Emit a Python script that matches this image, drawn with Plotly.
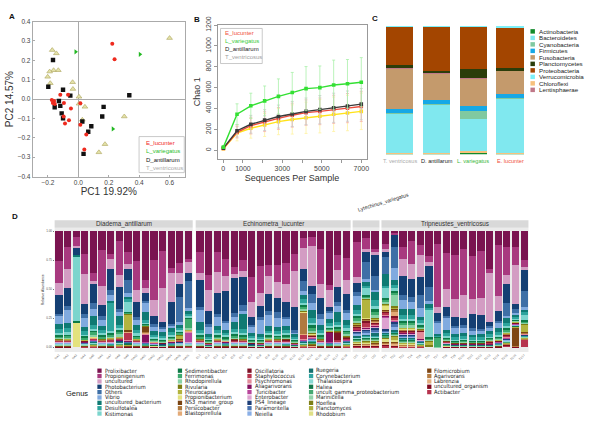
import plotly.graph_objects as go

# ================= DATA =================
# ---- Panel A: PCoA ----
pcoa_E_x = [0.223, 0.238, -0.119, -0.068, -0.095, -0.160, -0.168, -0.155, -0.175, -0.049, -0.097, -0.088, -0.062, 0.013, 0.013, 0.052, 0.039]
pcoa_E_y = [0.286, 0.206, 0.022, 0.022, -0.020, -0.010, -0.020, -0.025, -0.005, -0.049, -0.090, -0.126, -0.109, -0.022, -0.132, -0.183, -0.261]
pcoa_L_x = [-0.018, 0.405, 0.227]
pcoa_L_y = [0.244, 0.231, -0.154]
pcoa_D_x = [-0.167, -0.198, -0.101, -0.128, -0.053, -0.156, -0.119, -0.110, -0.101, 0.026, 0.335, 0.166, 0.157, 0.085, 0.065, 0.034]
pcoa_D_y = [0.202, 0.064, 0.048, -0.010, 0.018, -0.042, -0.035, -0.074, -0.099, -0.116, 0.020, -0.040, -0.090, -0.140, -0.169, -0.283]
pcoa_T_x = [-0.172, -0.145, -0.163, -0.189, -0.132, -0.202, -0.185, -0.038, -0.036, 0.004, 0.004, 0.043, 0.026, 0.302, 0.175, 0.135, 0.600]
pcoa_T_y = [0.253, 0.236, 0.149, 0.142, 0.149, 0.115, 0.082, 0.087, 0.052, 0.012, -0.024, -0.040, -0.107, -0.090, -0.233, -0.275, 0.315]
pcoa_x_ticks = [-0.2, 0.0, 0.2, 0.4, 0.6]
pcoa_x_ticktext = ['\u22120.2', '0.0', '0.2', '0.4', '0.6']
pcoa_y_ticks = [-0.4, -0.3, -0.2, -0.1, 0.0, 0.1, 0.2, 0.3, 0.4]
pcoa_y_ticktext = ['\u22120.4', '\u22120.3', '\u22120.2', '\u22120.1', '0.0', '0.1', '0.2', '0.3', '0.4']

# ---- Panel B: rarefaction (Chao1) ----
seq_depth = [10, 700, 1400, 2100, 2800, 3500, 4200, 4900, 5600, 6300, 7000]
chao_E = [18, 172, 236, 274, 305, 336, 361, 373, 392, 404, 420]
chao_L = [30, 345, 426, 473, 516, 553, 591, 600, 625, 637, 652]
chao_D = [20, 187, 249, 289, 323, 348, 373, 389, 407, 423, 442]
chao_T = [15, 165, 211, 242, 274, 295, 311, 326, 345, 357, 373]
err_E = [6, 55, 80, 95, 105, 115, 122, 128, 135, 140, 145]
err_L = [10, 100, 121, 143, 168, 193, 211, 208, 239, 233, 236]
err_D = [6, 60, 85, 100, 110, 120, 128, 135, 140, 145, 150]
err_T = [5, 75, 95, 110, 125, 140, 150, 160, 165, 170, 175]
chao_x_ticks = [0, 1000, 2000, 3000, 4000, 5000, 6000, 7000]
chao_x_ticktext = ['0', '1000', '', '3000', '', '5000', '', '7000']
chao_y_ticks = [0, 200, 400, 600, 800, 1000, 1200]

# ---- Panel C: phylum composition ----
phylum_species = ['T. ventricosus', 'D. antillarum', 'L. variegatus', 'E. lucunter']
Actinobacteria = [1.0, 1.0, 1.5, 1.0]
Chloroflexi = [0.2, 0.2, 0.8, 0.2]
Bacteroidetes = [31.0, 37.7, 24.8, 42.8]
Cyanobacteria = [0.3, 0.3, 6.8, 0.3]
Firmicutes = [3.0, 3.0, 3.3, 3.0]
Fusobacteria = [31.0, 21.3, 22.3, 19.0]
Lentisphaerae = [2.0, 0.8, 0.2, 0.2]
Planctomycetes = [1.0, 1.0, 7.1, 1.5]
Proteobacteria = [30.6, 35.0, 33.4, 31.9]
Verrucomicrobia = [0.5, 0.2, 0.2, 1.3]

# ---- Panel D: genus composition per sample ----
facet_names = ['Diadema_antillarum', 'Echinometra_lucunter', 'Lytechinus_variegatus', 'Tripneustes_ventricosus']
samples_D = ['DA1', 'DA2', 'DA3', 'DA4', 'DA5', 'DA6', 'DA7', 'DA8', 'DA9', 'DA10', 'DA11', 'DA12', 'DA13', 'DA14', 'DA15', 'DA16']
samples_E = ['EL1', 'EL2', 'EL3', 'EL4', 'EL5', 'EL6', 'EL7', 'EL8', 'EL9', 'EL10', 'EL11', 'EL12', 'EL13', 'EL14', 'EL15', 'EL16', 'EL17', 'EL18']
samples_L = ['LV1', 'LV2', 'LV3']
samples_T = ['TV1', 'TV2', 'TV3', 'TV4', 'TV5', 'TV6', 'TV7', 'TV8', 'TV9', 'TV10', 'TV11', 'TV12', 'TV13', 'TV14', 'TV15', 'TV16', 'TV17']

# values in % ; order of samples: D(16) E(18) L(3) T(17)
Prolixibacter = [26.5, 14.6, 4.8, 20.3, 37.7, 16.9, 20.3, 9.0, 18.9, 26.8, 44.2, 25.9, 17.5, 33.0, 28.7, 24.5,
                 18.8, 38.4, 18.8, 25.5, 31.9, 25.5, 41.2, 30.5, 30.0, 30.1, 29.0, 20.0, 5.9, 5.3, 16.0, 48.7, 21.0, 25.0,
                 10.5, 6.7, 17.9,
                 12.3, 2.0, 15.0, 9.5, 12.3, 22.0, 11.3, 19.3, 20.7, 16.0, 21.6, 17.9, 33.9, 12.3, 14.3, 14.3, 26.3]
Propionigenium = [19.7, 19.2, 7.9, 17.5, 7.3, 32.1, 5.1, 31.0, 10.7, 25.9, 7.6, 35.2, 33.2, 4.8, 9.0, 2.8,
                  18.8, 13.2, 17.9, 14.8, 6.4, 10.6, 21.6, 23.8, 10.4, 15.5, 19.0, 15.0, 9.2, 9.0, 31.4, 4.2, 14.0, 20.0,
                  35.0, 11.2, 3.6,
                  4.8, 2.0, 12.0, 22.4, 9.8, 5.0, 54.1, 32.2, 39.2, 40.3, 38.4, 41.2, 3.6, 45.7, 26.0, 15.7, 6.4]
uncultured = [10.7, 17.5, 2.0, 27.0, 3.4, 16.9, 8.5, 10.7, 4.8, 11.3, 4.5, 14.9, 30.1, 26.2, 10.1, 10.4,
              6.4, 18.8, 18.5, 14.0, 3.9, 5.0, 14.0, 12.0, 16.0, 14.1, 16.0, 32.3, 19.6, 37.3, 12.6, 15.4, 15.0, 13.0,
              6.0, 2.8, 3.4,
              3.6, 0.0, 16.0, 14.0, 19.6, 3.4, 5.6, 16.8, 16.0, 20.4, 13.2, 14.8, 42.9, 14.0, 7.6, 35.6, 2.8]
Photobacterium = [16.9, 16.3, 6.2, 9.0, 16.9, 10.1, 18.9, 20.3, 9.9, 13.2, 6.8, 6.8, 4.2, 19.7, 11.3, 6.5,
                  23.5, 12.0, 18.8, 26.6, 31.7, 25.2, 7.0, 9.0, 15.7, 12.7, 13.5, 20.0, 11.2, 7.0, 14.0, 4.2, 13.0, 14.5,
                  9.2, 9.8, 21.0,
                  4.2, 11.2, 18.0, 17.6, 16.8, 18.2, 7.0, 7.6, 7.8, 6.4, 12.9, 12.6, 3.4, 8.4, 17.6, 4.8, 18.8]
Others = [2.3, 3.4, 0.0, 3.4, 5.6, 3.4, 4.8, 2.8, 11.3, 2.3, 1.0, 2.3, 1.0, 1.0, 23.1, 23.9,
          2.8, 1.4, 2.8, 1.0, 2.8, 5.6, 1.0, 2.8, 3.4, 5.6, 2.0, 1.4, 9.8, 8.4, 4.2, 1.0, 4.0, 2.5,
          3.7, 16.8, 14.0,
          16.8, 21.0, 5.0, 4.8, 11.2, 12.6, 1.0, 2.0, 2.0, 2.0, 2.0, 2.0, 2.0, 2.0, 12.0, 3.1, 14.0]
Vibrio = [6.8, 11.3, 0.0, 7.9, 6.2, 5.6, 5.1, 3.4, 4.2, 5.1, 9.3, 4.2, 4.2, 2.8, 2.3, 2.8,
          11.2, 7.0, 8.4, 7.0, 4.8, 2.0, 5.6, 12.6, 9.8, 7.6, 6.0, 2.0, 3.4, 7.0, 5.6, 5.6, 5.0, 6.0,
          9.0, 2.8, 2.8,
          0.0, 11.2, 8.0, 7.0, 8.4, 2.8, 9.9, 10.6, 5.6, 4.8, 3.4, 2.8, 2.8, 4.8, 2.0, 2.0, 2.8]
uncultured_bacterium = [5, 5, 0.3, 4, 8.5, 4, 2, 7.9, 2, 4, 7, 3, 3, 3.5, 3, 3,
                        6.4, 2.5, 4, 3, 6.4, 14, 3, 2.5, 4, 4, 4, 2.5, 4, 7, 4.5, 4, 9, 5,
                        5, 4, 8,
                        11.2, 5.6, 6, 5.5, 3, 3, 1, 3, 2.5, 3, 2.5, 2.5, 3, 3.5, 4, 2, 2]
Desulfotalea = [3, 3.5, 0.8, 3, 3, 2.5, 25.4, 3, 1.5, 3, 1.5, 2, 2, 2.5, 2, 2,
                3, 1.5, 2.5, 2, 3, 3, 2, 1.5, 2.5, 2.5, 2.5, 1.5, 3, 5, 3, 2.5, 2.5, 3,
                4, 2, 6,
                2, 3, 4, 4, 2, 1, 0.8, 2.5, 1.5, 2, 1.5, 1.5, 2, 2.5, 3, 1, 1.5]
Kistimonas = [1.5, 1.5, 55.8, 1, 1.5, 1, 1.5, 2, 9.9, 1.5, 1, 0.8, 1, 1, 1, 1,
              1.2, 0.8, 1, 1, 1, 1.5, 0.8, 0.8, 1, 1, 1, 0.8, 2, 2, 1, 1, 1.5, 1.5,
              2, 7, 3,
              9.8, 2, 2, 2, 1.5, 25, 0.4, 1, 0.8, 0.8, 0.7, 0.8, 0.8, 1, 1.5, 1, 5.6]
Sedimentibacter = [1.5, 1.5, 0.3, 1.5, 2, 1.5, 1.5, 2, 0.5, 1.5, 0.8, 1, 1, 1.2, 1, 1,
                   1.5, 1, 1.5, 1.2, 1.5, 1.5, 1, 1, 1.5, 1.2, 1.2, 1, 2, 2.5, 1.5, 1.2, 1.5, 2,
                   2.5, 1, 3,
                   2, 2, 2, 2, 1.5, 1, 0.4, 1, 0.8, 1, 0.8, 0.8, 1, 1.2, 1.5, 0.5, 1]
Ferrimonas = [1.5, 1.5, 0.3, 1.2, 2, 1.5, 1.5, 2, 0.5, 1.2, 1, 1, 0.8, 1.2, 1, 8.5,
              1.5, 0.8, 1.3, 1, 1.5, 1.5, 0.8, 0.8, 1.2, 1.2, 1.2, 0.8, 2, 2.5, 1.5, 1.2, 1.5, 2,
              2.5, 1, 3,
              2, 2, 2, 2, 1.5, 1, 8.5, 1, 0.8, 0.8, 0.8, 0.8, 0.8, 1, 1.5, 0.5, 1]
Rhodopirellula = [0.8, 1, 0, 0.5, 1, 0.8, 1, 1.5, 0.5, 0.5, 0.5, 0.5, 0.5, 0.6, 0.5, 1,
                  0.8, 0.5, 0.8, 0.6, 1, 0.8, 0.5, 0.5, 0.8, 0.8, 0.8, 0.5, 1, 1.5, 0.8, 0.6, 0.8, 1,
                  1.5, 1, 2,
                  2, 11.2, 1.5, 1.5, 1, 0.5, 0.3, 0.5, 0.4, 0.5, 0.4, 0.4, 0.4, 0.5, 1, 0.5, 1]
Rivularia = [0.3, 0.3, 0, 0.2, 0.4, 0.3, 0.3, 0.4, 0.5, 0.3, 0.3, 0.2, 0.2, 0.2, 0.5, 0.3,
             0.3, 0.2, 0.3, 0.2, 0.3, 0.3, 0.2, 0.2, 0.3, 0.3, 0.3, 0.2, 0.4, 0.5, 0.3, 0.2, 0.3, 0.4,
             0.8, 1, 1,
             0.5, 1, 0.6, 0.6, 0.3, 2, 0, 0.2, 0.2, 0.2, 0.2, 0.2, 0.2, 0.3, 0.3, 0.2, 1]
Pleurocapsa = [0.4, 0.3, 0, 0.3, 0.4, 0.3, 0.4, 0.5, 14.1, 0.3, 0.3, 0.2, 0.2, 0.3, 3.9, 0.3,
               0.3, 0.2, 0.3, 0.2, 0.3, 0.3, 0.2, 0.2, 0.3, 0.3, 0.3, 0.2, 0.5, 0.5, 0.3, 0.3, 0.4, 0.4,
               1, 18.2, 1,
               0.8, 1, 0.8, 0.8, 0.4, 2, 0, 0.3, 0.2, 0.2, 0.2, 0.2, 0.2, 0.3, 0.4, 0.3, 7]
Propionibacterium = [0, 0.3, 21.5, 0, 0.3, 0, 0.3, 0, 0, 0.3, 0, 0, 0, 0.2, 0, 0,
                     0, 0, 0.3, 0, 0, 0, 0, 0, 0.3, 0, 0, 0, 0.5, 0.5, 0, 0, 0, 0.3,
                     0.5, 1, 0.5,
                     4.2, 0.5, 0.5, 0.5, 0, 0, 0, 0, 0, 0, 0, 0, 0, 0, 0.3, 0, 0]
NS3_marine_group = [0.3, 0.3, 0, 0.3, 0.4, 0.3, 0.3, 0.3, 1.5, 0.3, 5.6, 0.2, 0.2, 0.3, 0.3, 0.3,
                    0.3, 0.2, 0.3, 0.2, 0.3, 0.3, 0.2, 0.2, 0.3, 0.3, 0.3, 0.2, 0.5, 0.5, 0.3, 0.3, 0.3, 0.4,
                    0.6, 0.8, 1,
                    0.5, 1, 0.6, 0.6, 0.3, 0, 0, 0.2, 0.2, 0.2, 0.2, 0.2, 0.2, 0.3, 0.4, 0.3, 0.3]
Persicobacter = [0.2, 0.2, 0, 0.2, 0.3, 0.2, 0.2, 0.3, 0.3, 0.2, 0.3, 0.2, 0.1, 0.2, 0.2, 0.3,
                 0.2, 0.1, 0.2, 0.2, 0.2, 0.2, 0.1, 0.1, 0.2, 0.2, 0.2, 0.1, 19.6, 0.4, 0.2, 0.2, 0.3, 0.3,
                 0.5, 0.5, 0.8,
                 0.5, 1, 0.5, 0.5, 0.3, 0, 0, 0.2, 0.1, 0.1, 0.1, 0.1, 0.1, 0.2, 0.3, 0.2, 0.2]
Blastopirellula = [0.2, 0.2, 0, 0.2, 0.3, 0.2, 0.2, 0.3, 0.3, 0.2, 0.2, 0.2, 0.1, 0.2, 0.2, 0.2,
                   0.2, 0.1, 0.2, 0.2, 0.2, 0.2, 0.1, 0.1, 0.2, 0.2, 0.2, 0.1, 0.3, 0.4, 0.2, 0.2, 0.3, 0.3,
                   0.5, 0.5, 0.8,
                   0.5, 4.8, 0.5, 0.5, 0.3, 0, 0, 0.2, 0.1, 0.1, 0.1, 0.1, 0.1, 0.2, 0.3, 0.2, 0.2]
Oscillatoria = [0.3, 0.3, 0, 0.3, 0.4, 0.3, 0.3, 0.4, 0.5, 0.3, 0.3, 0.2, 0.2, 0.3, 0.3, 0.3,
                0.3, 0.2, 0.3, 0.2, 1, 0.3, 0.2, 0.2, 0.3, 0.3, 1, 0.2, 0.5, 0.5, 0.3, 0.3, 7, 0.5,
                1, 1.5, 1,
                0.8, 2.8, 0.6, 0.6, 0.4, 0, 0, 0.2, 0.2, 0.2, 0.2, 0.2, 2.2, 0.3, 0.5, 0.3, 0.3]
Staphylococcus = [0.4, 0.4, 0, 0.3, 0.5, 0.4, 1.5, 0.5, 7, 0.4, 0.4, 0.3, 0.3, 0.3, 0.4, 0.4,
                  0.4, 0.2, 0.4, 0.3, 0.4, 0.4, 0.3, 0.2, 0.4, 0.4, 0.4, 0.2, 4, 0.6, 0.4, 0.3, 0.5, 0.5,
                  1.5, 5, 1.5,
                  3, 1, 0.8, 0.8, 0.5, 0, 0, 0.3, 0.2, 0.2, 0.2, 0.2, 0.2, 0.3, 2, 0.3, 0.3]
Psychromonas = [0.2, 0.2, 0, 0.2, 0.3, 0.2, 0.2, 0.3, 0.2, 0.2, 0.2, 0.1, 0.1, 0.2, 0.2, 0.2,
                0.2, 0.1, 0.2, 0.2, 0.2, 0.2, 0.1, 0.1, 0.2, 0.2, 0.2, 0.1, 0.3, 0.4, 0.2, 0.2, 0.2, 0.3,
                0.5, 0.5, 0.8,
                0.5, 0.5, 0.5, 0.5, 7, 0, 0, 0.2, 0.1, 0.1, 0.1, 0.1, 0.1, 0.2, 0.3, 0.2, 0.2]
Aliagarivorans = [0.2, 0.2, 0, 0.2, 0.3, 0.2, 0.2, 0.3, 0.2, 0.2, 7, 0.1, 0.1, 0.2, 0.2, 0.2,
                  0.2, 0.1, 0.2, 0.2, 0.2, 0.2, 0.1, 0.1, 0.2, 0.2, 0.2, 0.1, 0.3, 0.4, 0.2, 8.4, 0.2, 0.3,
                  0.5, 0.5, 0.8,
                  0.5, 0.5, 0.5, 0.5, 0.3, 0, 0, 0.2, 0.1, 0.1, 0.1, 0.1, 0.1, 0.2, 0.3, 0.2, 0.2]
Turicibacter = [0.2, 0.2, 0, 0.2, 0.3, 0.2, 0.2, 0.3, 0.2, 0.2, 0.2, 0.1, 0.1, 0.2, 0.2, 8.5,
                0.2, 0.1, 0.2, 0.2, 0.2, 0.2, 0.1, 0.1, 0.2, 0.2, 0.2, 0.1, 0.3, 0.4, 0.2, 0.2, 0.2, 0.3,
                0.5, 0.5, 0.8,
                0.5, 0.5, 0.5, 0.5, 0.3, 0, 0, 0.2, 0.1, 0.1, 0.1, 0.1, 0.1, 0.2, 0.3, 0.2, 0.2]
Enterobacter = [0.2, 0.2, 0, 0.2, 0.3, 0.2, 0.2, 0.3, 0.2, 0.2, 0.2, 0.1, 0.1, 0.2, 0.2, 0.2,
                0.2, 0.1, 0.2, 0.2, 0.2, 0.2, 0.1, 0.1, 0.2, 0.2, 0.2, 0.1, 0.3, 0.4, 0.2, 0.2, 0.2, 0.3,
                0.5, 0.5, 0.8,
                12, 0.5, 0.5, 0.5, 0.3, 0, 0, 0.2, 0.1, 0.1, 0.1, 0.1, 0.1, 0.2, 0.3, 0.2, 0.2]
PS4_lineage = [0.3, 0.3, 0, 0.2, 0.3, 0.3, 0.3, 0.3, 0.3, 0.3, 0.3, 0.2, 0.2, 0.2, 0.3, 0.3,
               0.3, 0.2, 0.3, 0.2, 0.3, 0.3, 0.2, 0.2, 0.3, 0.3, 0.3, 0.2, 0.4, 0.5, 0.3, 0.3, 0.3, 0.4,
               1, 2, 1.5,
               0.8, 2, 0.8, 0.8, 0.4, 0, 0, 0.2, 0.2, 0.2, 0.2, 0.2, 0.2, 0.3, 0.4, 0.2, 0.2]
Paramoritella = [0.4, 0.4, 0, 0.3, 0.4, 0.4, 0.4, 0.4, 0.4, 0.4, 0.3, 0.3, 0.3, 0.3, 0.4, 0.4,
                 0.4, 0.2, 0.4, 0.3, 0.4, 0.4, 0.3, 0.2, 0.4, 0.4, 0.4, 0.2, 0.5, 0.6, 0.4, 0.3, 0.4, 0.5,
                 2, 1.5, 2,
                 1, 3, 1, 1, 0.5, 0, 0, 0.3, 0.2, 0.2, 0.2, 0.2, 0.2, 0.3, 0.5, 0.3, 0.3]
Neiella = [0.4, 0.4, 0, 0.3, 0.4, 0.4, 0.4, 0.4, 0.4, 0.4, 0.3, 0.3, 0.3, 0.3, 0.4, 0.4,
           0.4, 0.2, 0.4, 0.3, 0.4, 0.4, 0.3, 0.2, 0.4, 0.4, 0.4, 0.2, 0.5, 0.6, 0.4, 0.3, 0.4, 0.5,
           2, 2, 2.5,
           1, 3, 1, 1, 0.5, 0, 0, 0.3, 0.2, 0.2, 0.2, 0.2, 0.2, 0.3, 0.5, 0.3, 0.3]
Ruegeria = [0.3, 0.3, 0, 0.3, 0.4, 0.3, 0.3, 0.4, 0.3, 0.3, 0.3, 0.2, 0.2, 0.3, 0.3, 0.3,
            0.3, 0.2, 0.3, 0.3, 0.3, 0.3, 0.2, 0.2, 0.3, 0.3, 0.3, 0.2, 0.4, 0.5, 0.3, 0.3, 0.3, 0.4,
            1, 1, 1.5,
            1, 1, 1, 1, 0.4, 0, 0, 0.2, 0.2, 0.2, 0.2, 0.2, 0.2, 0.3, 0.4, 0.2, 0.2]
Corynebacterium = [0.3, 0.3, 0, 0.2, 0.4, 0.3, 0.3, 0.3, 0.3, 0.3, 0.3, 0.2, 0.2, 0.2, 0.3, 0.3,
                   0.3, 0.2, 0.3, 0.2, 0.3, 0.3, 0.2, 0.2, 0.3, 0.3, 0.3, 0.2, 0.4, 0.5, 0.3, 0.2, 0.3, 0.4,
                   0.8, 1, 1.2,
                   1, 1, 0.8, 0.8, 0.4, 0, 0, 0.2, 0.2, 0.2, 0.2, 0.2, 0.2, 0.3, 0.4, 0.2, 0.2]
Thalassospira = [0.2, 0.2, 0, 0.2, 0.3, 0.2, 0.2, 0.3, 0.2, 0.2, 0.2, 0.2, 0.1, 0.2, 0.2, 0.2,
                 0.2, 0.1, 0.2, 0.2, 0.2, 0.2, 0.1, 0.1, 0.2, 0.2, 0.2, 0.1, 0.3, 0.4, 0.2, 0.2, 0.2, 0.3,
                 0.6, 0.6, 0.8,
                 0.6, 0.8, 0.6, 0.6, 0.3, 0, 0, 0.2, 0.1, 0.1, 0.1, 0.1, 0.1, 0.2, 0.3, 0.2, 0.2]
Haliea = [0.4, 0.4, 0, 0.4, 0.5, 0.4, 0.4, 0.5, 0.4, 0.4, 0.4, 0.3, 0.3, 0.4, 0.4, 0.4,
          0.4, 0.3, 0.4, 0.4, 0.4, 0.4, 0.3, 0.3, 0.4, 0.4, 0.4, 0.3, 0.5, 0.7, 0.4, 0.4, 0.4, 0.5,
          1.2, 1, 1.5,
          1, 1, 1, 1, 0.5, 0, 0, 0.3, 0.2, 0.2, 0.2, 0.2, 0.2, 0.3, 0.5, 0.3, 0.3]
uncult_gamma_proteobacterium = [0.3, 0.3, 0, 0.3, 0.4, 0.3, 0.3, 0.4, 0.3, 0.3, 0.3, 0.2, 0.2, 0.3, 0.3, 0.3,
                                0.3, 0.2, 0.3, 0.3, 0.3, 0.3, 0.2, 0.2, 0.3, 0.3, 0.3, 0.2, 0.4, 0.6, 0.3, 0.3, 0.3, 0.4,
                                1, 1, 1.2,
                                1, 1, 0.8, 0.8, 0.4, 0, 0, 0.3, 0.2, 0.2, 0.2, 0.2, 0.2, 0.3, 0.4, 0.2, 0.2]
Marinicella = [0.2, 0.2, 0, 0.2, 0.3, 0.2, 0.2, 0.3, 0.2, 0.2, 0.2, 0.2, 0.1, 0.2, 0.2, 0.2,
               0.2, 0.1, 0.2, 0.2, 0.2, 0.2, 0.1, 0.1, 0.2, 0.2, 0.2, 0.1, 0.3, 0.4, 0.2, 0.2, 0.2, 0.3,
               0.6, 0.6, 0.8,
               0.6, 0.8, 0.6, 0.6, 0.3, 0, 0, 0.2, 0.1, 0.1, 0.1, 0.1, 0.1, 0.2, 0.3, 0.2, 0.2]
Hoeflea = [0.2, 0.2, 0, 0.2, 0.3, 0.2, 0.2, 0.3, 0.3, 0.2, 0.2, 0.2, 0.1, 0.2, 0.3, 0.2,
           0.2, 0.1, 0.2, 0.2, 0.2, 0.2, 0.1, 0.1, 0.2, 0.2, 0.2, 0.1, 0.3, 0.4, 0.2, 0.2, 0.2, 0.3,
           0.6, 0.8, 0.8,
           0.6, 2, 0.6, 0.6, 0.3, 2, 0, 0.2, 0.1, 0.1, 0.1, 0.1, 0.1, 0.2, 0.3, 0.2, 0.5]
Planctomyces = [0.2, 0.2, 0, 0.2, 0.3, 0.2, 0.2, 0.3, 0.4, 0.2, 0.2, 0.2, 0.1, 0.2, 0.3, 0.2,
                0.2, 0.1, 0.2, 0.2, 0.2, 0.2, 0.1, 0.1, 0.2, 0.2, 0.2, 0.1, 0.3, 0.4, 0.2, 0.2, 0.2, 0.3,
                0.6, 1, 0.8,
                0.6, 2, 0.6, 0.6, 0.3, 0, 0, 0.2, 0.1, 0.1, 0.1, 0.1, 0.1, 0.2, 0.3, 0.2, 0.5]
Rhodobium = [0.2, 0.2, 0, 0.2, 0.3, 0.2, 0.2, 0.3, 0.3, 0.2, 0.2, 0.2, 0.1, 0.2, 0.2, 0.2,
             0.2, 0.1, 0.2, 0.2, 0.2, 0.2, 0.1, 0.1, 0.2, 0.2, 0.2, 0.1, 0.3, 0.4, 0.2, 0.2, 0.2, 0.3,
             1, 1, 0.8,
             3, 1.5, 0.6, 0.6, 0.3, 0, 0, 0.2, 0.1, 0.1, 0.1, 0.1, 0.1, 0.2, 0.3, 0.2, 0.2]
Filomicrobium = [0.2, 0.2, 0, 0.2, 0.3, 0.2, 0.2, 0.3, 0.3, 0.2, 0.2, 0.2, 0.1, 0.2, 0.2, 0.2,
                 0.2, 0.1, 0.2, 0.2, 0.2, 0.2, 0.1, 0.1, 0.2, 0.2, 0.2, 0.1, 0.3, 0.4, 0.2, 0.2, 0.2, 0.3,
                 0.6, 0.6, 0.8,
                 0.6, 0.8, 0.6, 0.6, 0.3, 0, 0, 0.2, 0.1, 0.1, 0.1, 0.1, 0.1, 0.2, 0.3, 16.8, 0.2]
Agarivorans = [0.3, 0.3, 0, 0.3, 0.4, 0.3, 0.3, 0.4, 0.3, 0.3, 0.3, 0.2, 0.2, 0.3, 0.3, 0.3,
               0.3, 0.2, 0.3, 0.3, 0.3, 0.3, 0.2, 0.2, 0.3, 0.3, 0.3, 0.2, 0.4, 0.5, 0.3, 0.3, 0.3, 0.4,
               0.8, 0.8, 1,
               0.8, 1.5, 0.6, 0.6, 0.4, 0, 0, 0.2, 0.2, 0.2, 0.2, 0.2, 0.2, 0.3, 0.4, 0.3, 0.3]
Labrenzia = [0.3, 0.3, 0, 0.3, 0.4, 0.3, 0.3, 0.4, 0.3, 0.3, 0.3, 0.2, 0.2, 0.3, 0.3, 0.3,
             0.3, 0.2, 0.3, 0.3, 0.3, 0.3, 0.2, 0.2, 0.3, 0.3, 0.3, 0.2, 0.4, 0.5, 0.3, 0.3, 0.3, 0.4,
             0.8, 0.8, 1,
             0.8, 1.5, 0.6, 0.6, 0.4, 0, 0, 0.2, 0.2, 0.2, 0.2, 0.2, 0.2, 0.3, 0.4, 0.3, 0.3]
uncultured_organism = [0.2, 0.2, 0, 0.2, 0.3, 0.2, 0.2, 0.3, 0.3, 0.2, 0.2, 0.2, 0.1, 0.2, 0.2, 0.2,
                       0.2, 0.1, 0.2, 0.2, 0.2, 0.2, 0.1, 0.1, 0.2, 0.2, 0.2, 0.1, 0.3, 0.4, 0.2, 0.2, 0.2, 0.3,
                       0.8, 1, 0.8,
                       2, 1, 0.6, 0.6, 0.3, 0, 0, 0.2, 0.1, 0.1, 0.1, 0.1, 0.1, 0.2, 0.3, 0.2, 0.2]
Actibacter = [0.3, 0.3, 0, 0.3, 0.4, 0.3, 0.3, 0.4, 0.3, 0.3, 0.3, 0.2, 0.2, 0.3, 0.3, 0.3,
              0.3, 0.2, 0.3, 0.3, 0.3, 0.3, 0.2, 0.2, 0.3, 0.3, 0.3, 0.2, 0.4, 0.5, 0.3, 0.3, 0.3, 0.4,
              0.8, 1, 1,
              1, 1, 0.6, 0.6, 0.4, 0, 0, 0.2, 0.2, 0.2, 0.2, 0.2, 0.2, 0.3, 2, 0.3, 7]

genus_names = ['Prolixibacter', 'Propionigenium', 'uncultured', 'Photobacterium', 'Others', 'Vibrio',
               'uncultured_bacterium', 'Desulfotalea', 'Kistimonas',
               'Sedimentibacter', 'Ferrimonas', 'Rhodopirellula', 'Rivularia', 'Pleurocapsa',
               'Propionibacterium', 'NS3_marine_group', 'Persicobacter', 'Blastopirellula',
               'Oscillatoria', 'Staphylococcus', 'Psychromonas', 'Aliagarivorans', 'Turicibacter',
               'Enterobacter', 'PS4_lineage', 'Paramoritella', 'Neiella',
               'Ruegeria', 'Corynebacterium', 'Thalassospira', 'Haliea', 'uncult_gamma_proteobacterium',
               'Marinicella', 'Hoeflea', 'Planctomyces', 'Rhodobium',
               'Filomicrobium', 'Agarivorans', 'Labrenzia', 'uncultured_organism', 'Actibacter']
genus_values = [Prolixibacter, Propionigenium, uncultured, Photobacterium, Others, Vibrio,
                uncultured_bacterium, Desulfotalea, Kistimonas,
                Sedimentibacter, Ferrimonas, Rhodopirellula, Rivularia, Pleurocapsa,
                Propionibacterium, NS3_marine_group, Persicobacter, Blastopirellula,
                Oscillatoria, Staphylococcus, Psychromonas, Aliagarivorans, Turicibacter,
                Enterobacter, PS4_lineage, Paramoritella, Neiella,
                Ruegeria, Corynebacterium, Thalassospira, Haliea, uncult_gamma_proteobacterium,
                Marinicella, Hoeflea, Planctomyces, Rhodobium,
                Filomicrobium, Agarivorans, Labrenzia, uncultured_organism, Actibacter]
genus_colors = ['#7A1350', '#A8397F', '#D39CC3', '#143F73', '#3E6FA6', '#80AADF',
                '#0F7A73', '#2DA49C', '#7CD5CD',
                '#0E7A47', '#3DAA6E', '#88D2A6', '#7B7D12', '#B3B43E', '#E3E27D',
                '#7A4312', '#B07A3F', '#E3AA77',
                '#7E1226', '#B8344E', '#E38B9B', '#85105F', '#B8469C', '#DDA2D0',
                '#1E3F78', '#4A73B0', '#8AAFE6',
                '#15716F', '#30A5A1', '#88D9D3', '#13794B', '#46A972', '#91D3A9',
                '#7D7F16', '#AFB03F', '#DFE087',
                '#7F4614', '#B77E43', '#E4AE7D', '#80091F', '#B6344E']

# ================= FIGURE =================
W, H = 600, 426


def fx(p):
    return p / W


def fy(p):
    return 1 - p / H


FONT = 'Liberation Sans, Arial, sans-serif'
NARROW = 'Liberation Sans Narrow, DejaVu Sans Condensed, Liberation Sans, sans-serif'

fig = go.Figure()
shapes = []
annots = []

# ---- Panel A ----
fig.add_trace(go.Scatter(x=pcoa_T_x, y=pcoa_T_y, mode='markers', xaxis='x', yaxis='y',
                         marker=dict(symbol='triangle-up', size=5, color='#E4E2A8',
                                     line=dict(color='#B5AE6A', width=0.7)), showlegend=False))
fig.add_trace(go.Scatter(x=pcoa_D_x, y=pcoa_D_y, mode='markers', xaxis='x', yaxis='y',
                         marker=dict(symbol='square', size=4.4, color='#111111'), showlegend=False))
fig.add_trace(go.Scatter(x=pcoa_E_x, y=pcoa_E_y, mode='markers', xaxis='x', yaxis='y',
                         marker=dict(symbol='circle', size=4, color='#EE2A1E'), showlegend=False))
fig.add_trace(go.Scatter(x=pcoa_L_x, y=pcoa_L_y, mode='markers', xaxis='x', yaxis='y',
                         marker=dict(symbol='triangle-right', size=4.6, color='#22B822'), showlegend=False))

shapes.append(dict(type='rect', xref='paper', yref='paper', x0=fx(139), x1=fx(184.5), y0=fy(169), y1=fy(132),
                   line=dict(color='#BBBBBB', width=0.8), fillcolor='white'))
legA = [('E_lucunter', '#F0281E'), ('L_variegatus', '#2DBE2D'), ('D_antillarum', '#111111'), ('T_ventricosus', '#AAAAAA')]
for i, (t, c) in enumerate(legA):
    annots.append(dict(text=t, x=fx(144), y=fy(139 + i * 8.3), xref='paper', yref='paper', xanchor='left',
                       yanchor='middle', showarrow=False, font=dict(size=6, color=c, family=FONT)))

# ---- Panel B ----
for yv, ev, lc, ec in [(chao_T, err_T, '#FFE21A', '#FFF2A0'),
                       (chao_E, err_E, '#EC4A3C', '#F6B6AE'),
                       (chao_D, err_D, '#3A3A3A', '#C9C9C9'),
                       (chao_L, err_L, '#33E033', '#A9F0A9')]:
    fig.add_trace(go.Scatter(x=seq_depth, y=yv, mode='lines+markers', xaxis='x2', yaxis='y2',
                             line=dict(color=lc, width=1.4),
                             marker=dict(symbol='square', size=3.6, color=lc),
                             error_y=dict(type='data', array=ev, visible=True, color=ec, thickness=0.8, width=1.5),
                             showlegend=False))
shapes.append(dict(type='rect', xref='paper', yref='paper', x0=fx(221), x1=fx(263), y0=fy(57), y1=fy(21),
                   line=dict(color='#BBBBBB', width=0.8), fillcolor='white'))
legB = [('E_lucunter', '#F0503C'), ('L_variegatus', '#3CCB3C'), ('D_antillarum', '#222222'), ('T_ventricosus', '#A0A0A0')]
for i, (t, c) in enumerate(legB):
    annots.append(dict(text=t, x=fx(223), y=fy(25.5 + i * 8.1), xref='paper', yref='paper', xanchor='left',
                       yanchor='middle', showarrow=False, font=dict(size=6, color=c, family=FONT)))

# ---- Panel C ----
phyla_stack = [('Actinobacteria', Actinobacteria, '#118A2A'),
               ('Chloroflexi', Chloroflexi, '#F7C17C'),
               ('Bacteroidetes', Bacteroidetes, '#80E8EF'),
               ('Cyanobacteria', Cyanobacteria, '#80C9A0'),
               ('Firmicutes', Firmicutes, '#16A8E6'),
               ('Fusobacteria', Fusobacteria, '#C49A6C'),
               ('Lentisphaerae', Lentisphaerae, '#C07888'),
               ('Planctomycetes', Planctomycetes, '#2B3D0A'),
               ('Proteobacteria', Proteobacteria, '#A34500'),
               ('Verrucomicrobia', Verrucomicrobia, '#7DF0F8')]
phy_color = {n: c for n, v, c in phyla_stack}
for n, v, c in phyla_stack:
    fig.add_trace(go.Bar(x=phylum_species, y=v, xaxis='x3', yaxis='y3', marker=dict(color=c, line=dict(width=0)),
                         width=0.74, showlegend=False, name=n))
spec_col = ['#AAAAAA', '#222222', '#3CB83C', '#F0503C']
for i, s in enumerate(phylum_species):
    annots.append(dict(text=s, x=s, y=fy(157), xref='x3', yref='paper', xanchor='center', yanchor='middle',
                       showarrow=False, font=dict(size=5.6, color=spec_col[i], family=FONT)))
legC = ['Actinobacteria', 'Bacteroidetes', 'Cyanobacteria', 'Firmicutes', 'Fusobacteria', 'Planctomycetes',
        'Proteobacteria', 'Verrucomicrobia', 'Chloroflexi', 'Lentisphaerae']
for i, n in enumerate(legC):
    yc = 24 + i * 6.67
    shapes.append(dict(type='rect', xref='paper', yref='paper', x0=fx(533), x1=fx(537.5), y0=fy(yc + 2.3), y1=fy(yc - 2.3),
                       line=dict(width=0), fillcolor=phy_color[n]))
    annots.append(dict(text=n, x=fx(539.5), y=fy(yc), xref='paper', yref='paper', xanchor='left', yanchor='middle',
                       showarrow=False, font=dict(size=6.2, color='#222222', family=FONT)))

# ---- Panel D ----
facet_samples = [samples_D, samples_E, samples_L, samples_T]
facet_slices = [(0, 16), (16, 34), (34, 37), (37, 54)]
facet_px = [(54, 193), (196, 352), (354, 381), (383, 531)]
facet_axes = ['x4', 'x5', 'x6', 'x7']
for gi in range(len(genus_names) - 1, -1, -1):
    for fi in range(4):
        a, b = facet_slices[fi]
        fig.add_trace(go.Bar(x=facet_samples[fi], y=genus_values[gi][a:b], xaxis=facet_axes[fi], yaxis='y4',
                             marker=dict(color=genus_colors[gi], line=dict(width=0)),
                             name=genus_names[gi], showlegend=False))

D_top, D_bot = 225.5, 353
for fi in range(4):
    x0, x1 = facet_px[fi]
    shapes.append(dict(type='rect', xref='paper', yref='paper', x0=fx(x0), x1=fx(x1), y0=fy(D_bot), y1=fy(D_top),
                       line=dict(width=0), fillcolor='#EBEBEB', layer='below'))
    shapes.append(dict(type='rect', xref='paper', yref='paper', x0=fx(x0), x1=fx(x1), y0=fy(D_top), y1=fy(218),
                       line=dict(width=0), fillcolor='#D9D9D9', layer='below'))
    if fi != 2:
        annots.append(dict(text=facet_names[fi], x=fx((x0 + x1) / 2), y=fy(221.8), xref='paper', yref='paper',
                           xanchor='center', yanchor='middle', showarrow=False,
                           font=dict(size=6.3, color='#333333', family=FONT)))
annots.append(dict(text=facet_names[2], x=fx(356), y=fy(213), xref='paper', yref='paper', xanchor='left',
                   yanchor='bottom', textangle=-17, showarrow=False, font=dict(size=5.3, color='#333333', family=FONT)))

# Genus legend
annots.append(dict(text='Genus', x=fx(77), y=fy(396), xref='paper', yref='paper', xanchor='center', yanchor='middle',
                   showarrow=False, font=dict(size=7.5, color='#222222', family=FONT)))
col_x = [97, 178, 248, 310, 429]
for gi, n in enumerate(genus_names):
    col, row = divmod(gi, 9)
    yc = 372.3 + row * 5.5
    xc = col_x[col]
    shapes.append(dict(type='rect', xref='paper', yref='paper', x0=fx(xc), x1=fx(xc + 4.3), y0=fy(yc + 2.2),
                       y1=fy(yc - 2.2), line=dict(width=0), fillcolor=genus_colors[gi]))
    annots.append(dict(text=n, x=fx(xc + 5.3), y=fy(yc), xref='paper', yref='paper', xanchor='left', yanchor='middle',
                       showarrow=False, font=dict(size=5.7, color='#222222', family=NARROW)))

# Panel letters
for t, x, y in [('A', 11, 9), ('B', 197, 12), ('C', 377, 11), ('D', 14, 214)]:
    annots.append(dict(text='<b>%s</b>' % t, x=fx(x), y=fy(y), xref='paper', yref='paper', xanchor='center',
                       yanchor='middle', showarrow=False, font=dict(size=8, color='#111111', family=FONT)))

axis_common_A = dict(showline=True, mirror=True, linecolor='#AAAAAA', linewidth=1, ticks='inside', ticklen=2,
                     tickcolor='#AAAAAA', showgrid=False, zeroline=True, zerolinecolor='#AAAAAA', zerolinewidth=1,
                     tickfont=dict(size=6.5, color='#444444', family=FONT))
axis_common_B = dict(showline=True, mirror=True, linecolor='#999999', linewidth=1, ticks='outside', ticklen=3,
                     tickcolor='#999999', showgrid=False, zeroline=False,
                     tickfont=dict(size=7, color='#444444', family=FONT))
xD = dict(type='category', anchor='y4', showgrid=False, zeroline=False, showline=False, ticks='', tickangle=-45,
          tickfont=dict(size=3, color='#666666', family=FONT))

layout = dict(
    width=W, height=H, margin=dict(l=0, r=0, t=0, b=0), paper_bgcolor='white', plot_bgcolor='rgba(0,0,0,0)',
    barmode='stack', barnorm='fraction', bargap=0.16, showlegend=False, font=dict(family=FONT),
    xaxis=dict(domain=[fx(32), fx(185)], anchor='y', range=[-0.3, 0.7], tickvals=pcoa_x_ticks,
               ticktext=pcoa_x_ticktext,
               title=dict(text='PC1 19.92%', font=dict(size=10, color='#333333'), standoff=2), **axis_common_A),
    yaxis=dict(domain=[fy(173), fy(14)], anchor='x', range=[-0.4, 0.4], tickvals=pcoa_y_ticks,
               ticktext=pcoa_y_ticktext,
               title=dict(text='PC2 14.57%', font=dict(size=10, color='#333333'), standoff=2), **axis_common_A),
    xaxis2=dict(domain=[fx(218), fx(368)], anchor='y2', range=[-287, 7267], tickvals=chao_x_ticks,
                ticktext=chao_x_ticktext,
                title=dict(text='Sequences Per Sample', font=dict(size=9, color='#333333'), standoff=3), **axis_common_B),
    yaxis2=dict(domain=[fy(155), fy(17)], anchor='x2', range=[-84, 1205], tickvals=chao_y_ticks, tickangle=-90,
                title=dict(text='Chao 1', font=dict(size=9, color='#333333'), standoff=2), **axis_common_B),
    xaxis3=dict(domain=[fx(383), fx(531)], anchor='y3', range=[-0.5, 3.5], visible=False),
    yaxis3=dict(domain=[fy(150), fy(18)], anchor='x3', range=[0, 1], visible=False),
    xaxis4=dict(domain=[fx(54), fx(193)], range=[-0.5, 15.5], **xD),
    xaxis5=dict(domain=[fx(196), fx(352)], range=[-0.5, 17.5], **xD),
    xaxis6=dict(domain=[fx(354), fx(381)], range=[-0.5, 2.5], **xD),
    xaxis7=dict(domain=[fx(383), fx(531)], range=[-0.5, 16.5], **xD),
    yaxis4=dict(domain=[fy(D_bot), fy(D_top)], anchor='x4', range=[-0.042, 1.03], tickvals=[0, 0.25, 0.5, 0.75, 1.0],
                ticktext=['0.00', '0.25', '0.50', '0.75', '1.00'], showgrid=False, zeroline=False, ticks='outside',
                ticklen=1, tickcolor='#777777', tickfont=dict(size=3, color='#555555', family=FONT),
                title=dict(text='Relative Abundance', font=dict(size=3.5, color='#333333'), standoff=1)),
    shapes=shapes, annotations=annots,
)
fig.update_layout(**layout)
fig.write_html('out.html', config={'displayModeBar': False},
               post_script="document.body.style.margin='0px';document.body.style.padding='0px';")
